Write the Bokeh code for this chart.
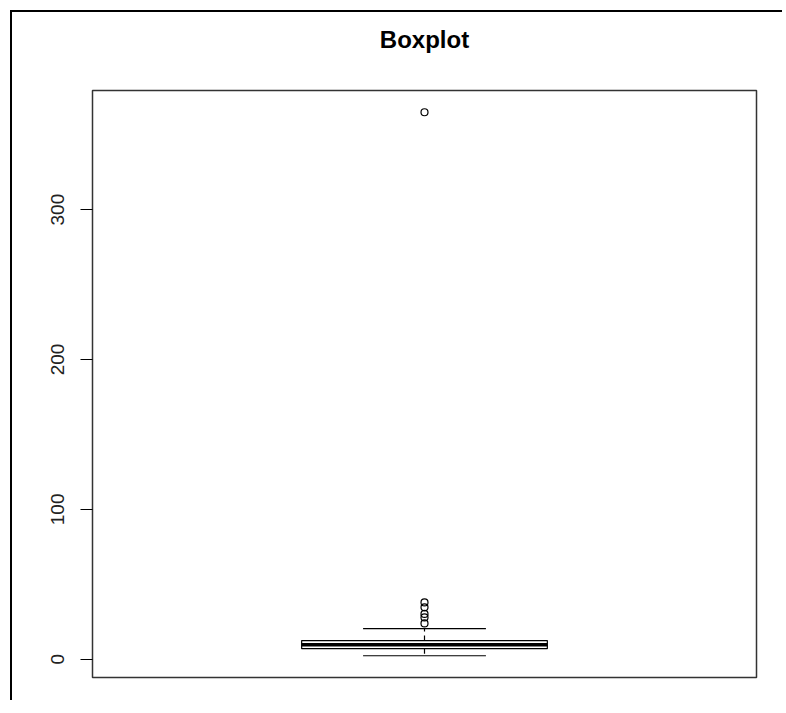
from bokeh.plotting import figure
from bokeh.models import Range1d, FixedTicker, Title
from bokeh.embed import file_html
from bokeh.resources import INLINE

# ---- data ----
group_positions = [1]
lower_whisker = [2.3]
q1 = [7.0]
median = [9.7]
q3 = [12.4]
upper_whisker = [20.4]
outlier_x = [1, 1, 1, 1, 1, 1]
outlier_y = [23.9, 27.9, 30.2, 34.6, 37.9, 365.0]
y_ticks = [0, 100, 200, 300]
title_text = "Boxplot"

box_width = 0.37
cap_width = 0.185

data_min = min(lower_whisker + outlier_y)
data_max = max(upper_whisker + outlier_y)
pad = 0.04 * (data_max - data_min)

p = figure(
    width=772, height=690,
    x_range=Range1d(0.5, 1.5),
    y_range=Range1d(data_min - pad, data_max + pad),
    output_backend="svg", toolbar_location=None,
    min_border_left=80, min_border_right=28,
    min_border_top=78, min_border_bottom=25,
    title=title_text,
)
p.styles = {"border-left": "2px solid #000", "border-top": "2px solid #000",
            "margin-left": "10px", "margin-top": "10px"}

# spacer panel between title and frame
p.add_layout(Title(text=" ", text_font_size="1px", standoff=30), "above")

p.title.align = "center"
p.title.text_font = "Liberation Sans"
p.title.text_font_size = "24px"
p.title.text_font_style = "bold"
p.title.text_color = "#000000"
p.title.standoff = 9

p.background_fill_color = "white"
p.border_fill_color = "white"
p.outline_line_color = "#333333"
p.outline_line_width = 1.5
p.xgrid.visible = False
p.ygrid.visible = False
p.xaxis.visible = False

ax = p.yaxis[0]
ax.ticker = FixedTicker(ticks=y_ticks)
ax.axis_line_color = None
ax.major_tick_out = 12
ax.major_tick_in = 0
ax.major_tick_line_color = "#000000"
ax.major_tick_line_width = 1.2
ax.minor_tick_line_color = None
ax.major_label_orientation = "vertical"
ax.major_label_text_font = "Liberation Sans"
ax.major_label_text_font_size = "19px"
ax.major_label_text_color = "#222222"
ax.major_label_standoff = 16

xs = group_positions
# whiskers (dashed)
p.segment(x0=xs, y0=q3, x1=xs, y1=upper_whisker, line_color="black", line_width=1.2, line_dash="5 4")
p.segment(x0=xs, y0=q1, x1=xs, y1=lower_whisker, line_color="black", line_width=1.2, line_dash="5 4")
# caps
p.segment(x0=[x - cap_width / 2 for x in xs], y0=upper_whisker,
          x1=[x + cap_width / 2 for x in xs], y1=upper_whisker, line_color="black", line_width=1.2)
p.segment(x0=[x - cap_width / 2 for x in xs], y0=lower_whisker,
          x1=[x + cap_width / 2 for x in xs], y1=lower_whisker, line_color="black", line_width=1.2)
# box
p.quad(left=[x - box_width / 2 for x in xs], right=[x + box_width / 2 for x in xs],
       bottom=q1, top=q3, fill_color="white", line_color="black", line_width=1.2)
# median
p.segment(x0=[x - box_width / 2 for x in xs], y0=median,
          x1=[x + box_width / 2 for x in xs], y1=median, line_color="black", line_width=3.5)
# outliers
p.scatter(x=outlier_x, y=outlier_y, marker="circle", size=7, fill_color=None,
          line_color="black", line_width=1.2)

open("out.html", "w").write(file_html(p, INLINE))
